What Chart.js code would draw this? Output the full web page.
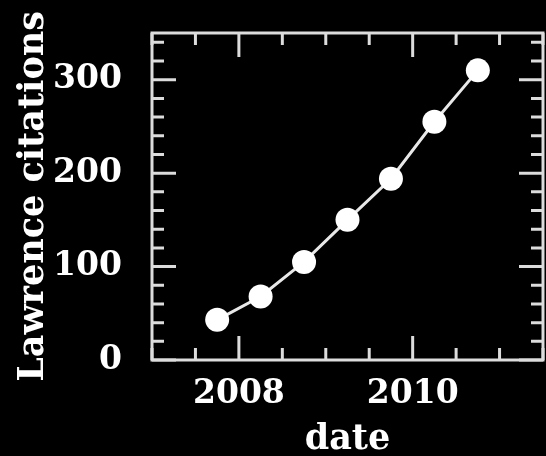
<!DOCTYPE html>
<html>
<head>
<meta charset="utf-8">
<script src="https://cdn.jsdelivr.net/npm/chart.js@4/dist/chart.umd.min.js"></script>
<style>
  html, body { margin: 0; padding: 0; background: #000; }
  #wrap { width: 546px; height: 456px; }
</style>
</head>
<body>
<div id="wrap"><canvas id="chart"></canvas></div>
<script>
// data
const dates = [2007.75, 2008.25, 2008.75, 2009.25, 2009.75, 2010.25, 2010.75]
const citations = [43, 68, 105, 150, 194, 255, 310]

const xLabels = [2008, 2010]
const yLabels = [0, 100, 200, 300]
const xMinorStep = 0.5
const yMinorStep = 20

const frameColor = '#dcdcdc'
const fontFamily = '"DejaVu Serif", serif'

// frame box with inward ticks on all four sides
const framePlugin = {
  id: 'frame',
  afterDatasetsDraw(chart) {
    const { ctx, chartArea: a, scales } = chart
    const x = scales.x, y = scales.y
    ctx.save()
    ctx.strokeStyle = frameColor
    ctx.lineWidth = 3
    ctx.beginPath()

    for (let v = x.min; v <= x.max + 1e-9; v += xMinorStep) {
      const px = x.getPixelForValue(v)
      const len = xLabels.includes(v) ? 24 : 12
      ctx.moveTo(px, a.bottom); ctx.lineTo(px, a.bottom - len)
      ctx.moveTo(px, a.top); ctx.lineTo(px, a.top + len)
    }
    for (let v = y.min; v <= y.max + 1e-9; v += yMinorStep) {
      const py = y.getPixelForValue(v)
      const len = yLabels.includes(v) ? 24 : 12
      ctx.moveTo(a.left, py); ctx.lineTo(a.left + len, py)
      ctx.moveTo(a.right, py); ctx.lineTo(a.right - len, py)
    }
    ctx.stroke()
    ctx.strokeRect(a.left, a.top, a.right - a.left, a.bottom - a.top)
    ctx.restore()
  }
}

new Chart(document.getElementById('chart'), {
  type: 'scatter',
  data: {
    datasets: [
      {
        label: 'Lawrence citations',
        data: dates.map((d, i) => ({ x: d, y: citations[i] })),
        showLine: true,
        borderColor: '#e8e8e8',
        borderWidth: 3,
        pointRadius: 12,
        pointHoverRadius: 12,
        pointBackgroundColor: '#ffffff',
        pointBorderWidth: 0
      }
    ]
  },
  plugins: [framePlugin],
  options: {
    responsive: true,
    maintainAspectRatio: false,
    animation: false,
    layout: { autoPadding: false, padding: { top: 33, right: 3, left: 0, bottom: 0 } },
    plugins: {
      legend: { display: false },
      tooltip: { enabled: false }
    },
    scales: {
      x: {
        type: 'linear',
        min: 2007,
        max: 2011.5,
        grid: { display: false },
        border: { display: false },
        afterBuildTicks: s => { s.ticks = xLabels.map(v => ({ value: v })) },
        afterFit: s => { s.height = 96; s.paddingLeft = 0; s.paddingRight = 0 },
        ticks: {
          color: '#ffffff',
          padding: 7,
          maxRotation: 0,
          font: { family: fontFamily, size: 33, weight: 'bold' },
          callback: v => String(v)
        },
        title: {
          display: true,
          text: 'date',
          color: '#ffffff',
          padding: { top: 0, bottom: -5 },
          font: { family: fontFamily, size: 35, weight: 'bold' }
        }
      },
      y: {
        min: 0,
        max: 350,
        grid: { display: false },
        border: { display: false },
        afterBuildTicks: s => { s.ticks = yLabels.map(v => ({ value: v })) },
        afterFit: s => { s.width = 152; s.paddingTop = 0; s.paddingBottom = 0 },
        ticks: {
          color: '#ffffff',
          padding: 22,
          font: { family: fontFamily, size: 33, weight: 'bold' }
        },
        title: {
          display: true,
          text: 'Lawrence citations',
          color: '#ffffff',
          padding: { top: 13, bottom: 0 },
          font: { family: fontFamily, size: 35, weight: 'bold' }
        }
      }
    }
  }
})
</script>
</body>
</html>
